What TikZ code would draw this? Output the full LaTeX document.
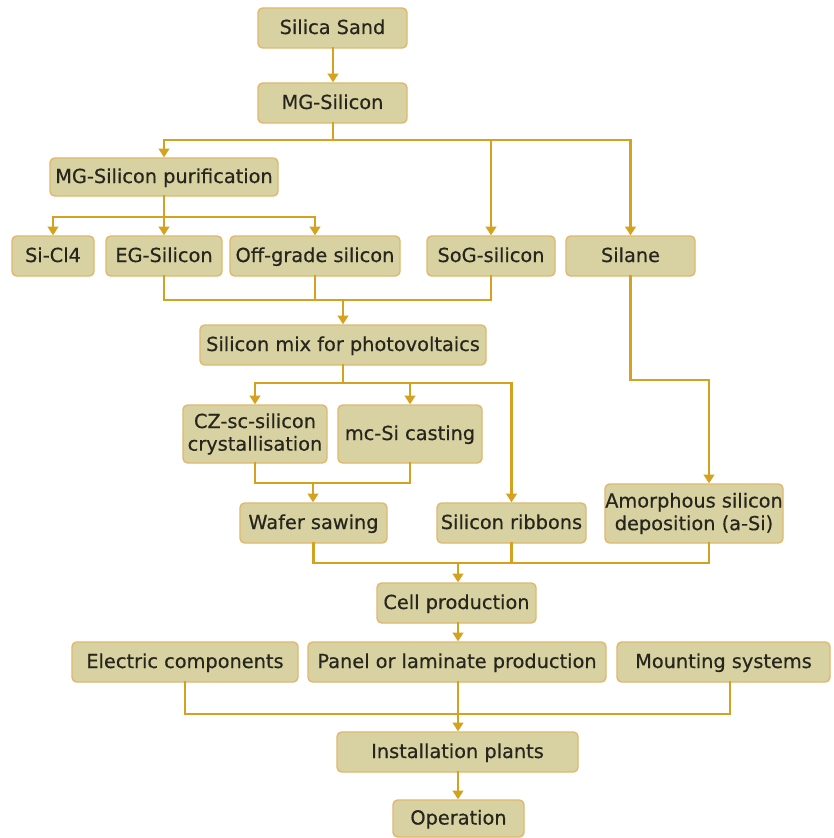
\documentclass[tikz,border=0pt]{standalone}
\usepackage{fontspec}
\setmainfont{DejaVu Sans}
\newfontfamily\stagefont{DejaVu Sans}[FakeBold=0.5]
\usetikzlibrary{arrows.meta,calc}

\definecolor{boxfill}{HTML}{D8D2A2}
\definecolor{boxedge}{HTML}{E0B870}
\definecolor{wirecol}{HTML}{D4A21E}
\definecolor{ink}{HTML}{26261E}

% a process stage given by its corner coordinates (x1,y1) and (x2,y2)
\newcommand{\stage}[7][oneline]{%
  \node[stagebox, #1,
        minimum width={(#5-#3)*0.75pt},
        minimum height={(#6-#4)*0.75pt}]
    (#2) at ({(#3+#5)/2},{(#4+#6)/2}) {#7};}

\tikzset{
  stagebox/.style={draw=boxedge, fill=boxfill, line width=1.1pt,
    rounded corners=3.5pt, inner sep=0pt, text=ink, align=center,
    font=\stagefont\fontsize{14.5}{17}\selectfont},
  oneline/.style={text height=11pt, text depth=2pt},
  twolines/.style={},
  wire/.style={draw=wirecol, line width=1.9pt, line cap=rect},
  flow/.style={wire, -{Triangle[width=8pt,length=6.5pt]}},
}

\begin{document}
\begin{tikzpicture}[x=0.75pt,y=-0.75pt]
\fill[white] (0,0) rectangle (833,838);
\useasboundingbox (0,0) rectangle (833,838);

% stages
\stage{sand}{258}{8}{407}{48}{Silica Sand}
\stage{mg}{258}{83}{407}{123}{MG-Silicon}
\stage{pur}{50}{158}{278}{196}{MG-Silicon purification}
\stage{sicl}{12}{236}{94}{276}{Si-Cl4}
\stage{eg}{106}{236}{222}{276}{EG-Silicon}
\stage{off}{230}{236}{400}{276}{Off-grade silicon}
\stage{sog}{427}{236}{555}{276}{SoG-silicon}
\stage{silane}{566}{236}{695}{276}{Silane}
\stage{mix}{200}{325}{486}{365}{Silicon mix for photovoltaics}
\stage[twolines]{cz}{183}{405}{327}{463}{CZ-sc-silicon\\crystallisation}
\stage{mc}{338}{405}{482}{463}{mc-Si casting}
\stage{wafer}{240}{503}{387}{543}{Wafer sawing}
\stage{ribbon}{437}{503}{586}{543}{Silicon ribbons}
\stage[twolines]{amor}{605}{484}{783}{543}{Amorphous silicon\\deposition (a-Si)}
\stage{cell}{377}{583}{536}{623}{Cell production}
\stage{elec}{72}{642}{298}{682}{Electric components}
\stage{panel}{308}{642}{606}{682}{Panel or laminate production}
\stage{mount}{617}{642}{830}{682}{Mounting systems}
\stage{inst}{337}{732}{578}{772}{Installation plants}
\stage{oper}{393}{800}{524}{837}{Operation}

% junction points of the connector buses
\coordinate (j1) at (333,140);
\coordinate (j2) at (164,217);
\coordinate (j3) at (343,300);
\coordinate (j4) at (343,383);
\coordinate (j5) at (313,483);
\coordinate (j6) at (709,380);
\coordinate (j7) at (458,563);
\coordinate (j8) at (458,714);
\coordinate (amorout) at (amor.south -| j6);
\coordinate (mountout) at (730,682);

% sand to metallurgical silicon
\draw[flow] (sand.south -| j1) -- (j1 |- mg.north);

% metallurgical silicon branches
\draw[flow] (j1 |- mg.south) -- (j1) -| (pur.north);
\draw[flow] (j1) -| (silane.north);
\draw[flow] (sog.north |- j1) -- (sog.north);

% purification branches
\draw[flow] (pur.south) -- (j2) -| (sicl.north);
\draw[flow] (j2) -- (eg.north);
\draw[flow] (j2) -| (off.north);

% feedstock merging into the silicon mix
\draw[wire] (eg.south) |- (j3) -| (sog.south);
\draw[wire] (off.south) -- (off.south |- j3);
\draw[flow] (j3) -- (j3 |- mix.north);

% silicon mix branches
\draw[flow] (mix.south -| j4) -- (j4) -| (cz.north);
\draw[flow] (j4) -| (ribbon.north);
\draw[flow] (mc.north |- j4) -- (mc.north);

% ingots to wafers
\draw[wire] (cz.south) |- (j5) -| (mc.south);
\draw[flow] (j5) -- (j5 |- wafer.north);

% silane to thin film deposition
\draw[flow] (silane.south) |- (j6) -- (j6 |- amor.north);

% wafers, ribbons and thin film to cells
\draw[wire] (wafer.south) |- (j7) -| (amorout);
\draw[wire] (ribbon.south) -- (ribbon.south |- j7);
\draw[flow] (j7) -- (j7 |- cell.north);

% cells to panels
\draw[flow] (cell.south -| j7) -- (j7 |- panel.north);

% components to installation
\draw[wire] (elec.south) |- (j8) -| (mountout);
\draw[wire] (panel.south -| j8) -- (j8);
\draw[flow] (j8) -- (j8 |- inst.north);

% installation to operation
\draw[flow] (inst.south -| j8) -- (j8 |- oper.north);
\end{tikzpicture}
\end{document}
